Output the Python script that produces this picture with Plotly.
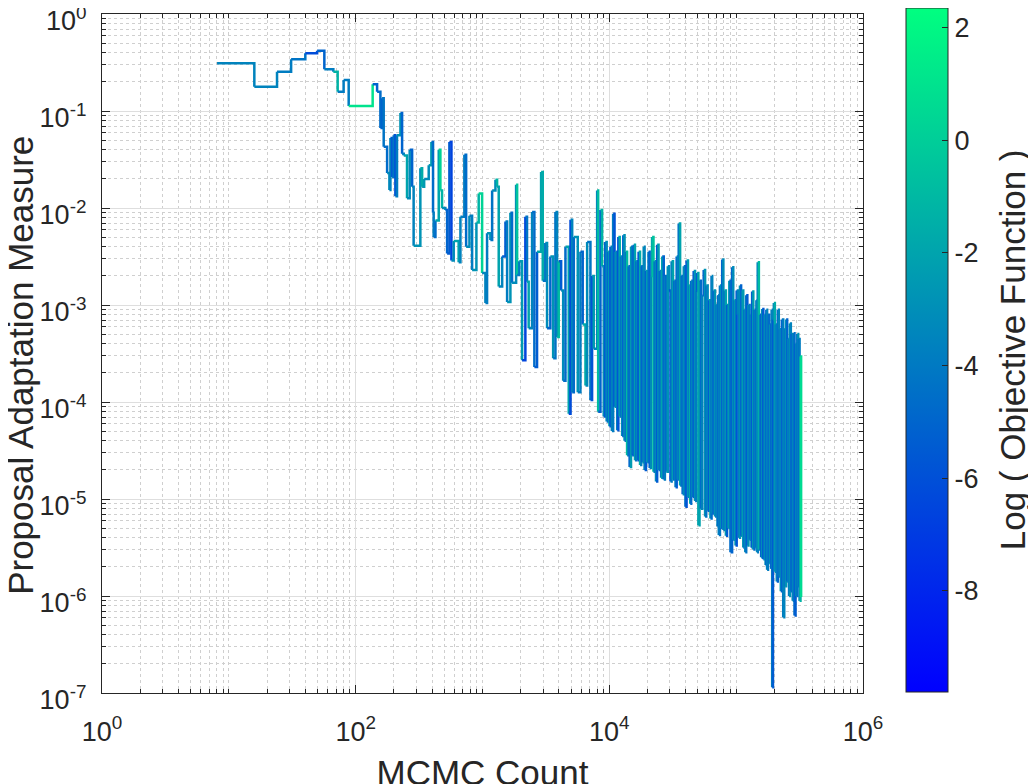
import numpy as np
import plotly.graph_objects as go

# log10 of MCMC count at each adaptation step
count_log10 = [
    0.907, 1.201, 1.380, 1.491, 1.603, 1.696, 1.753, 1.824, 1.858, 1.905,
    1.945, 2.134, 2.169, 2.195, 2.208, 2.221, 2.248, 2.266, 2.274, 2.287,
    2.300, 2.313, 2.326, 2.353, 2.366, 2.379, 2.405, 2.426, 2.445, 2.457,
    2.510, 2.524, 2.540, 2.576, 2.597, 2.610, 2.615, 2.629, 2.655, 2.668,
    2.681, 2.707, 2.721, 2.739, 2.755, 2.773, 2.812, 2.826, 2.857, 2.871,
    2.897, 2.918, 2.952, 2.970, 2.997, 3.023, 3.036, 3.062, 3.076, 3.102,
    3.115, 3.128, 3.155, 3.181, 3.194, 3.220, 3.233, 3.265, 3.273, 3.290,
    3.312, 3.338, 3.351, 3.364, 3.391, 3.409, 3.430, 3.462, 3.475, 3.495,
    3.509, 3.535, 3.557, 3.575, 3.588, 3.601, 3.620, 3.636, 3.654, 3.680,
    3.694, 3.707, 3.720, 3.751, 3.772, 3.790, 3.812, 3.825, 3.851, 3.864,
    3.877, 3.904, 3.912, 3.930, 3.943, 3.956, 3.968, 3.979, 3.990, 4.001,
    4.009, 4.020, 4.030, 4.041, 4.050, 4.062, 4.071, 4.082, 4.091, 4.101,
    4.110, 4.120, 4.131, 4.140, 4.150, 4.160, 4.171, 4.180, 4.193, 4.202,
    4.211, 4.222, 4.231, 4.242, 4.251, 4.260, 4.271, 4.278, 4.289, 4.298,
    4.309, 4.318, 4.330, 4.337, 4.348, 4.357, 4.368, 4.377, 4.388, 4.397,
    4.408, 4.417, 4.429, 4.438, 4.449, 4.461, 4.470, 4.482, 4.491, 4.502,
    4.511, 4.522, 4.531, 4.540, 4.547, 4.558, 4.567, 4.578, 4.587, 4.600,
    4.609, 4.620, 4.629, 4.638, 4.645, 4.656, 4.665, 4.676, 4.684, 4.692,
    4.702, 4.711, 4.722, 4.733, 4.744, 4.755, 4.764, 4.775, 4.786, 4.797,
    4.806, 4.811, 4.822, 4.833, 4.842, 4.853, 4.858, 4.863, 4.872, 4.881,
    4.890, 4.899, 4.908, 4.919, 4.928, 4.937, 4.946, 4.955, 4.968, 4.977,
    4.986, 4.995, 5.004, 5.013, 5.021, 5.030, 5.039, 5.047, 5.056, 5.065,
    5.072, 5.079, 5.088, 5.097, 5.106, 5.115, 5.121, 5.126, 5.135, 5.144,
    5.153, 5.160, 5.165, 5.170, 5.179, 5.188, 5.197, 5.205, 5.214, 5.223,
    5.232, 5.238, 5.244, 5.251, 5.260, 5.268, 5.276, 5.280, 5.284, 5.290,
    5.297, 5.305, 5.313, 5.320, 5.328, 5.336, 5.344, 5.352, 5.360, 5.371,
    5.379, 5.386, 5.394, 5.402, 5.410, 5.417, 5.423, 5.431, 5.438, 5.446,
    5.454, 5.460, 5.468, 5.475, 5.482, 5.489, 5.494, 5.500, 5.507, 5.512,
]

# log10 of proposal adaptation measure
measure_log10 = [
    -0.508, -0.750, -0.595, -0.467, -0.405, -0.378, -0.570, -0.595, -0.801, -0.681,
    -0.949, -0.725, -0.801, -1.176, -0.869, -1.369, -1.640, -1.815, -1.279, -1.68,
    -1.25, -1.88, -1.25, -1.02, -1.44, -1.46, -1.90, -1.40, -1.78, -2.39,
    -1.59, -1.78, -1.70, -1.56, -1.32, -2.05, -2.30, -2.13, -1.40, -1.82,
    -2.00, -2.02, -2.47, -1.32, -2.54, -2.34, -2.56, -2.09, -1.45, -2.40,
    -2.08, -2.64, -2.15, -1.85, -2.67, -2.98, -2.26, -2.33, -1.82, -1.71,
    -1.78, -2.81, -2.50, -2.14, -2.97, -2.05, -2.77, -1.76, -2.69, -2.55,
    -3.57, -2.09, -2.76, -3.24, -2.04, -3.64, -2.45, -1.63, -2.75, -2.36,
    -3.24, -2.50, -3.55, -2.04, -3.33, -2.55, -2.85, -3.78, -2.40, -4.12,
    -2.12, -3.90, -2.30, -3.90, -2.45, -3.20, -3.83, -2.35, -3.98, -2.70,
    -3.45, -1.82, -4.10, -2.02, -2.60, -4.15, -2.35, -4.20, -2.45, -4.25,
    -2.40, -4.30, -2.06, -4.05, -2.45, -4.29, -2.30, -4.15, -2.50, -4.35,
    -2.28, -4.40, -2.45, -4.55, -2.60, -4.67, -2.40, -4.55, -2.38, -4.60,
    -2.55, -4.60, -2.45, -4.65, -2.60, -4.62, -2.40, -4.70, -2.65, -4.62,
    -2.45, -4.68, -2.70, -2.30, -4.72, -2.55, -4.82, -2.38, -4.70, -2.65,
    -4.78, -2.50, -4.80, -2.70, -4.72, -2.60, -2.85, -4.82, -2.55, -4.80,
    -2.75, -4.88, -2.50, -4.80, -2.16, -4.86, -2.70, -4.95, -2.60, -5.08,
    -2.54, -4.98, -2.80, -5.05, -2.75, -4.98, -2.65, -5.02, -2.85, -2.67,
    -5.27, -2.75, -5.10, -2.90, -2.64, -5.18, -2.80, -5.12, -2.95, -5.20,
    -2.70, -5.15, -2.85, -5.18, -3.00, -5.28, -2.90, -5.37, -2.80, -5.30,
    -2.53, -5.32, -2.85, -5.38, -3.00, -5.30, -2.75, -5.55, -2.61, -5.42,
    -2.95, -5.48, -2.85, -3.10, -5.40, -2.80, -5.38, -2.85, -5.50, -3.05,
    -5.55, -2.90, -5.48, -3.00, -5.42, -3.10, -5.50, -2.86, -5.52, -3.05,
    -5.50, -2.95, -5.55, -2.56, -5.52, -3.10, -5.60, -3.04, -5.62, -3.10,
    -5.68, -3.05, -5.73, -3.10, -5.66, -3.20, -5.72, -3.05, -6.94, -3.15,
    -2.98, -5.75, -3.20, -5.85, -3.05, -5.80, -3.25, -5.95, -3.15, -6.22,
    -3.25, -5.90, -3.15, -5.85, -3.35, -6.00, -3.19, -5.95, -3.30, -6.05,
    -3.29, -6.20, -3.40, -6.00, -3.30, -5.90, -3.35, -6.05, -3.53, -6.01,
]

# log of objective function (colour of the trace)
objective_log = [
    -3.6, -3.4, -3.8, -4.2, -6.3, -5.0, -4.0, -1.2, -3.9, -4.0,
    1.2, -5.2, -4.6, -5.0, -4.4, -4.8, -3.0, -3.5, -5.6, -4.2,
    -5.8, -3.9, -2.6, -5.2, -4.0, -2.2, -3.2, -5.0, -3.6, -2.9,
    -1.8, -2.4, -3.0, -2.5, -4.6, -3.8, -4.5, -2.2, 0.2, -1.4,
    -3.3, -4.9, -5.3, -6.6, -3.1, -2.0, -3.5, -4.1, -4.8, -3.0,
    -3.8, -2.6, -1.2, 0.3, -3.4, -3.9, -2.7, -4.4, -3.0, -1.3,
    -2.1, -3.6, -5.4, -4.0, -2.8, -4.7, -3.3, -0.6, -3.9, -2.4,
    -6.4, -4.2, -1.9, -3.5, -4.6, -5.6, -2.2, -1.5, -4.3, -3.1,
    -5.0, -2.6, -4.4, -3.7, -1.0, -5.3, -3.2, -4.8, -2.0, -6.1,
    -3.4, -4.5, -2.7, -3.8, -5.1, -1.6, -3.0, -4.2, -5.7, -2.3,
    -3.6, -0.8, -4.9, -1.4, -3.3, -5.5, -3.0, -4.6, -2.2, -5.8,
    -3.4, -4.1, -5.9, -2.6, -3.8, -6.0, -1.8, -4.4, -3.1, -5.2,
    -2.9, -4.8, -0.9, -3.6, -5.0, -2.4, -3.9, -5.5, -2.1, -4.3,
    -3.2, -6.2, -1.5, -3.7, -4.9, -2.7, -3.5, -5.6, -2.3, -4.0,
    -5.1, -3.0, -1.7, -0.6, -4.4, -3.3, -5.3, -2.5, -4.7, -3.6,
    -2.0, -5.0, -3.8, -4.5, -2.8, -3.2, -5.7, -3.9, -1.9, -4.6,
    -3.4, -5.4, -2.6, -4.2, -2.2, -3.5, -5.0, -3.0, -4.3, -5.9,
    -2.4, -3.7, -1.3, -4.8, -3.2, -5.3, -2.9, -4.0, -5.5, -2.1,
    -2.0, -4.6, -3.6, -5.0, -2.7, -4.3, -3.1, -5.6, -2.2, -4.5,
    -3.4, -5.2, -2.6, -4.1, -3.0, -5.4, -3.7, -4.4, -2.8, -5.0,
    -3.3, -4.2, -1.9, -5.6, -3.5, -2.4, -4.7, -5.2, -3.0, -4.4,
    -2.2, -5.7, -3.6, -4.0, -2.9, -5.1, -3.7, -2.5, -4.6, -3.3,
    -4.2, -5.5, -2.7, -3.9, -4.8, -3.1, -5.3, -2.3, -4.5, -3.4,
    -5.0, -2.8, -4.1, -1.0, -3.6, -4.9, -3.0, -5.4, -4.0, -2.6,
    -5.1, -3.4, -3.8, -4.6, -2.9, -5.3, -4.2, -3.6, -5.6, -3.7,
    -1.5, -4.3, -2.8, -5.0, -3.4, -4.6, -2.5, -5.2, -3.9, -3.5,
    -4.4, -2.7, -5.0, -3.6, -4.8, -2.9, -3.4, -5.3, -4.1, -3.0,
    -4.5, -5.6, -3.3, -4.2, -2.6, -4.9, -3.8, -1.2, 0.8, -3.2,
]

cmin, cmax = -9.8, 2.35
ink = '#262626'
font = 'Liberation Sans, Arial, sans-serif'

x = 10 ** np.array(count_log10)
y = 10 ** np.array(measure_log10)
c = np.array(objective_log)


def winter(t):
    # matlab "winter": blue -> spring green
    return 'rgb(0,%d,%d)' % (round(255 * t), round(255 * (1 - 0.5 * t)))


n_bins = 32
bins = np.clip(((c - cmin) / (cmax - cmin) * n_bins).astype(int), 0, n_bins - 1)

fig = go.Figure()

# one stair step per segment, drawn in sequence order so later steps sit on top
for i in range(len(x) - 1):
    t = (bins[i] + 0.5) / n_bins
    fig.add_trace(go.Scatter(
        x=[x[i], x[i + 1], x[i + 1]], y=[y[i], y[i], y[i + 1]], mode='lines',
        line=dict(color=winter(t), width=2.5, simplify=False),
        hoverinfo='skip', showlegend=False,
    ))

# colour bar carrier (point sits below the visible range)
fig.add_trace(go.Scatter(
    x=[10], y=[1e-9], mode='markers', hoverinfo='skip', showlegend=False,
    marker=dict(
        size=1, opacity=0, color=[cmin], cmin=cmin, cmax=cmax,
        colorscale=[[0, 'rgb(0,0,255)'], [1, 'rgb(0,255,128)']],
        showscale=True,
        colorbar=dict(
            x=1.056, xanchor='left', y=0.505, yanchor='middle',
            len=684, lenmode='pixels', thickness=42, thicknessmode='pixels',
            xpad=0, ypad=0, outlinecolor=ink, outlinewidth=1,
            ticks='inside', ticklen=6, tickcolor=ink,
            tickmode='array', tickvals=[-8, -6, -4, -2, 0, 2],
            ticktext=['-8', '-6', '-4', '-2', '0', '2'],
            tickfont=dict(size=27, color=ink, family=font),
        ),
    ),
))

minor_x = [m * 10 ** k for k in range(6) for m in range(1, 10)
           if not (m == 1 and k % 2 == 0)]
minor_y = [m * 10.0 ** k for k in range(-7, 0) for m in range(2, 10)]

axis_common = dict(
    type='log', ticks='inside', ticklen=8, tickwidth=1.2, tickcolor=ink,
    showline=True, linecolor=ink, linewidth=1.3, mirror='ticks',
    showgrid=True, gridcolor='#dedede', gridwidth=1, zeroline=False,
    automargin=False, ticklabeloverflow='allow',
    tickfont=dict(size=27, color=ink, family=font),
)

fig.update_xaxes(
    **axis_common, range=[0, 6],
    tickmode='array', tickvals=[1, 1e2, 1e4, 1e6],
    ticktext=['10<sup>0</sup>', '10<sup>2</sup>', '10<sup>4</sup>', '10<sup>6</sup>'],
    ticklabelstandoff=14,
    minor=dict(tickmode='array', tickvals=minor_x, ticks='inside', ticklen=4,
               tickcolor=ink, showgrid=True, gridcolor='#cfcfcf',
               griddash='dot', gridwidth=1),
    title=dict(text='MCMC Count', standoff=18,
               font=dict(size=35, color=ink, family=font)),
)
fig.update_yaxes(
    **axis_common, range=[-7, 0],
    tickmode='array', tickvals=[10.0 ** k for k in range(-7, 1)],
    ticktext=['10<sup>%d</sup>' % k for k in range(-7, 1)],
    ticklabelstandoff=9, ticklabelshift=7,
    minor=dict(tickmode='array', tickvals=minor_y, ticks='inside', ticklen=4,
               tickcolor=ink, showgrid=True, gridcolor='#cfcfcf',
               griddash='dot', gridwidth=1),
)

# axis / colour-bar labels placed as in the source figure
fig.add_annotation(text='Proposal Adaptation Measure', textangle=-90,
                   xref='paper', yref='paper', x=-0.108, y=0.483,
                   xanchor='center', yanchor='middle',
                   showarrow=False, font=dict(size=35, color=ink, family=font))
fig.add_annotation(text='Log ( Objective Function )', textangle=-90,
                   xref='paper', yref='paper', x=1.196, y=0.505,
                   xanchor='center', yanchor='middle',
                   showarrow=False, font=dict(size=35, color=ink, family=font))

fig.update_layout(
    width=1036, height=784,
    margin=dict(l=94, r=181, t=6, b=99, autoexpand=False),
    paper_bgcolor='white', plot_bgcolor='white',
    font=dict(family=font, color=ink),
)

fig.write_html('out.html')
